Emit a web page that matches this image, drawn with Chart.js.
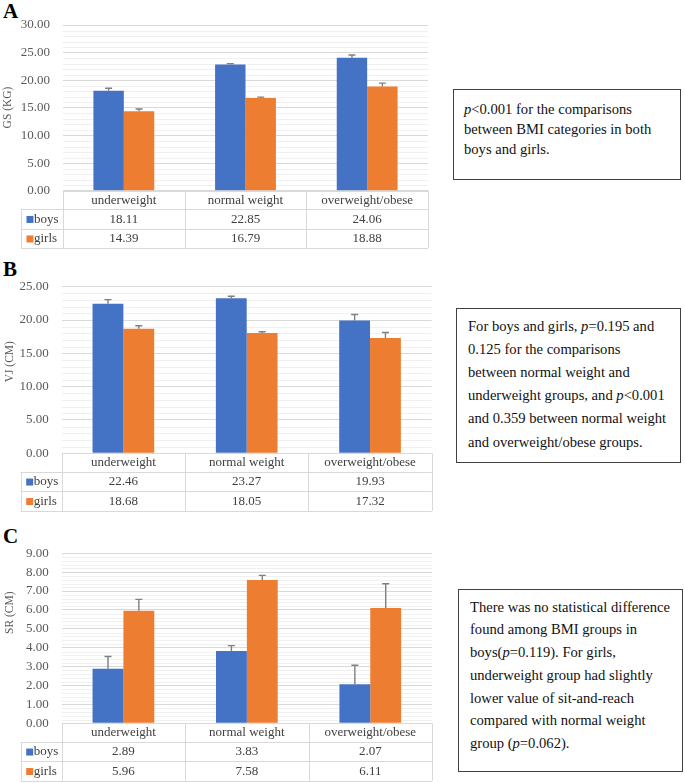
<!DOCTYPE html>
<html>
<head>
<meta charset="utf-8">
<script src="https://cdn.jsdelivr.net/npm/chart.js@4.4.1/dist/chart.umd.min.js"></script>
<style>
  html, body { margin: 0; padding: 0; background: #fff; }
  #wrap { position: relative; width: 685px; height: 783px; overflow: hidden; font-family: "Liberation Serif", "Times New Roman", serif; }
  canvas { position: absolute; left: 0; }
  .panel { position: absolute; font-weight: bold; font-size: 21px; line-height: 21px; color: #000; }
  .note { position: absolute; box-sizing: border-box; border: 1px solid #404040; font-size: 14.6px; color: #111; white-space: nowrap; }
</style>
</head>
<body>
<div id="wrap">
  <div class="panel" style="left:3px;top:1px;">A</div>
  <div class="panel" style="left:3px;top:259px;">B</div>
  <div class="panel" style="left:3px;top:526px;">C</div>
  <canvas id="cA" width="440" height="255" style="top:0px;"></canvas>
  <canvas id="cB" width="440" height="260" style="top:255px;"></canvas>
  <canvas id="cC" width="440" height="263" style="top:520px;"></canvas>
  <div class="note" style="left:453px;top:89px;width:228px;height:91px;padding:9px 0 0 10px;line-height:20px;">
    <i>p</i>&lt;0.001 for the comparisons<br>between BMI categories in both<br>boys and girls.
  </div>
  <div class="note" style="left:456px;top:308px;width:225px;height:155px;padding:5.5px 0 0 11px;line-height:23.2px;">
    For boys and girls, <i>p</i>=0.195 and<br>0.125 for the comparisons<br>between normal weight and<br>underweight groups, and <i>p</i>&lt;0.001<br>and 0.359 between normal weight<br>and overweight/obese groups.
  </div>
  <div class="note" style="left:458px;top:589px;width:225px;height:183px;padding:5.5px 0 0 11px;line-height:22.8px;">
    There was no statistical difference<br>found among BMI groups in<br>boys(<i>p</i>=0.119). For girls,<br>underweight group had slightly<br>lower value of sit-and-reach<br>compared with normal weight<br>group (<i>p</i>=0.062).
  </div>
</div>
<script>
// ---- data ----
const categories = ['underweight', 'normal weight', 'overweight/obese'];
const seriesNames = ['boys', 'girls'];

const gsBoys = [18.11, 22.85, 24.06];
const gsGirls = [14.39, 16.79, 18.88];
const gsBoysErr = [0.45, 0.15, 0.5];
const gsGirlsErr = [0.4, 0.15, 0.6];

const vjBoys = [22.46, 23.27, 19.93];
const vjGirls = [18.68, 18.05, 17.32];
const vjBoysErr = [0.6, 0.3, 0.9];
const vjGirlsErr = [0.45, 0.2, 0.8];

const srBoys = [2.89, 3.83, 2.07];
const srGirls = [5.96, 7.58, 6.11];
const srBoysErr = [0.65, 0.28, 1.0];
const srGirlsErr = [0.6, 0.25, 1.28];

const gsAxis = { title: 'GS (KG)', max: 30, step: 5, minor: 1 };
const vjAxis = { title: 'VJ (CM)', max: 25, step: 5, minor: 1 };
const srAxis = { title: 'SR (CM)', max: 9, step: 1, minor: 0.2 };

// ---- style ----
const FONT = '"Liberation Serif", "Times New Roman", serif';
const BLUE = '#4472C4';
const ORANGE = '#ED7D31';
const GRID = '#d9d9d9';
const MINOR = '#f0f0f0';
const TEXT = '#595959';

Chart.defaults.font.family = FONT;

function makeChart(id, boys, girls, boysErr, girlsErr, axis, geo) {
  const errs = [boysErr, girlsErr];
  const helper = {
    id: 'helper' + id,
    beforeDatasetsDraw(chart) {
      const ctx = chart.ctx, ys = chart.scales.y, a = chart.chartArea;
      ctx.save();
      ctx.strokeStyle = MINOR;
      ctx.lineWidth = 1;
      const n = Math.round(axis.max / axis.minor);
      const per = Math.round(axis.step / axis.minor);
      for (let i = 1; i < n; i++) {
        if (i % per === 0) continue;
        const y = Math.round(ys.getPixelForValue(i * axis.minor)) + 0.5;
        ctx.beginPath(); ctx.moveTo(a.left, y); ctx.lineTo(a.right, y); ctx.stroke();
      }
      ctx.restore();
    },
    afterDatasetsDraw(chart) {
      const ctx = chart.ctx, ys = chart.scales.y;
      ctx.save();
      ctx.strokeStyle = '#7f7f7f';
      ctx.lineWidth = 1.4;
      chart.data.datasets.forEach((ds, di) => {
        const meta = chart.getDatasetMeta(di);
        meta.data.forEach((bar, i) => {
          const x = bar.x;
          const y0 = ys.getPixelForValue(ds.data[i]);
          const y1 = ys.getPixelForValue(ds.data[i] + errs[di][i]);
          ctx.beginPath();
          ctx.moveTo(x, y0); ctx.lineTo(x, y1);
          ctx.moveTo(x - 3.5, y1); ctx.lineTo(x + 3.5, y1);
          ctx.stroke();
        });
      });
      ctx.restore();
    },
    afterDraw(chart) {
      const ctx = chart.ctx, a = chart.chartArea;
      const xl = a.left, xr = a.right, w = (xr - xl) / categories.length;
      const x0 = geo.tableLeft;
      const r0 = a.bottom, r1 = r0 + 18.5, r2 = r1 + 19.5, r3 = r2 + 19.5;
      const px = v => Math.round(v) + 0.5;
      ctx.save();
      ctx.strokeStyle = GRID;
      ctx.lineWidth = 1;
      ctx.beginPath();
      ctx.moveTo(xl, px(r0)); ctx.lineTo(xr, px(r0));
      [r1, r2, r3].forEach(r => { ctx.moveTo(x0, px(r)); ctx.lineTo(xr, px(r)); });
      ctx.moveTo(px(x0), r1); ctx.lineTo(px(x0), r3);
      for (let i = 0; i <= categories.length; i++) {
        const x = px(xl + i * w);
        ctx.moveTo(x, r0); ctx.lineTo(x, r3);
      }
      ctx.stroke();
      // texts
      ctx.fillStyle = '#404040';
      ctx.font = '13px ' + FONT;
      ctx.textAlign = 'center';
      ctx.textBaseline = 'middle';
      categories.forEach((c, i) => {
        ctx.fillText(c, xl + (i + 0.5) * w, (r0 + r1) / 2 + 0.5);
      });
      const rows = [[boys, BLUE, r1, r2], [girls, ORANGE, r2, r3]];
      rows.forEach((row, ri) => {
        const [vals, col, ra, rb] = row;
        const cy = (ra + rb) / 2 + 0.5;
        ctx.fillStyle = col;
        ctx.fillRect(x0 + 5.5, cy - 3.5, 7, 7);
        ctx.fillStyle = '#404040';
        ctx.textAlign = 'left';
        ctx.fillText(seriesNames[ri], x0 + 13, cy);
        ctx.textAlign = 'center';
        vals.forEach((v, i) => ctx.fillText(v.toFixed(2), xl + (i + 0.5) * w, cy));
      });
      // y title
      ctx.save();
      ctx.translate(geo.titleX, geo.titleY);
      ctx.rotate(-Math.PI / 2);
      ctx.fillStyle = TEXT;
      ctx.font = '11.5px ' + FONT;
      ctx.textAlign = 'center';
      ctx.textBaseline = 'middle';
      ctx.fillText(axis.title, 0, 0);
      ctx.restore();
      ctx.restore();
    }
  };

  return new Chart(document.getElementById(id), {
    type: 'bar',
    data: {
      labels: categories,
      datasets: [
        { label: seriesNames[0], data: boys, backgroundColor: BLUE, categoryPercentage: 0.5, barPercentage: 1.0 },
        { label: seriesNames[1], data: girls, backgroundColor: ORANGE, categoryPercentage: 0.5, barPercentage: 1.0 }
      ]
    },
    options: {
      responsive: false,
      animation: false,
      devicePixelRatio: 1,
      layout: { padding: { top: geo.top, bottom: geo.bottom, left: 0, right: geo.right } },
      plugins: { legend: { display: false }, tooltip: { enabled: false } },
      scales: {
        x: { display: false },
        y: {
          min: 0, max: axis.max,
          afterFit(s) { s.width = geo.axisW; },
          border: { display: false },
          grid: { color: GRID, lineWidth: 1, drawTicks: false },
          ticks: {
            stepSize: axis.step, padding: 13, color: TEXT,
            font: { size: 13, family: FONT },
            callback: v => Number(v).toFixed(2)
          }
        }
      }
    },
    plugins: [helper]
  });
}

makeChart('cA', gsBoys, gsGirls, gsBoysErr, gsGirlsErr, gsAxis,
  { top: 25, bottom: 64.3, right: 12, axisW: 63, tableLeft: 21, titleX: 8.3, titleY: 107.5 });
makeChart('cB', vjBoys, vjGirls, vjBoysErr, vjGirlsErr, vjAxis,
  { top: 31.7, bottom: 61.7, right: 8.3, axisW: 61.7, tableLeft: 20.7, titleX: 10, titleY: 106.7 });
makeChart('cC', srBoys, srGirls, srBoysErr, srGirlsErr, srAxis,
  { top: 33.3, bottom: 59.7, right: 8, axisW: 61.7, tableLeft: 20.7, titleX: 10, titleY: 92.7 });
</script>
</body>
</html>
